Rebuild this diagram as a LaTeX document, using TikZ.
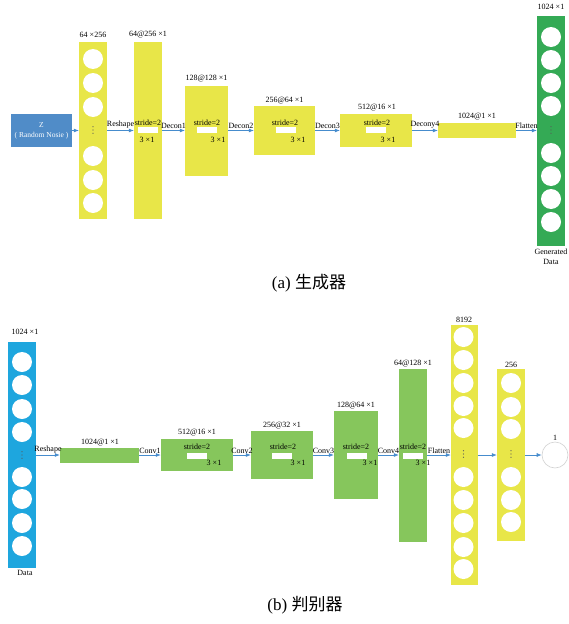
\documentclass[tikz,border=0pt]{standalone}
\usepackage{fontspec}
\setmainfont{Liberation Serif}
\newfontfamily\cjk{Noto Sans CJK SC}
\usetikzlibrary{arrows.meta}
\definecolor{ylw}{RGB}{232,230,72}
\definecolor{dgreen}{RGB}{52,170,85}
\definecolor{lgreen}{RGB}{134,198,92}
\definecolor{dblue}{RGB}{30,166,222}
\definecolor{zblue}{RGB}{80,140,200}
\definecolor{arrblue}{RGB}{70,140,205}
\begin{document}
\begin{tikzpicture}[x=1pt,y=-1pt,
  lbl/.style={font=\fontsize{8}{9}\selectfont, inner sep=0pt},
  blk/.style={inner sep=0pt, draw=none},
  neuron/.style={circle, fill=white, draw=none, inner sep=0pt, minimum size=20pt},
  arr/.style={draw=arrblue, line width=0.7pt, -{Latex[length=5pt,width=4pt]}},
  hole/.style={fill=white, draw=none, inner sep=0pt, minimum width=20pt, minimum height=6pt},
  alabel/.style={lbl, above=1.5pt, midway},
  vdotpt/.style={fill=black!65},
  captext/.style={font=\fontsize{17}{20}\selectfont, inner sep=0pt}
]
\useasboundingbox (0,0) rectangle (569,624);

% ---------------- (a) generator ----------------
\node[blk, fill=zblue, minimum width=61pt, minimum height=33pt, text=white, font=\fontsize{7.5}{9}\selectfont, align=center] (z) at (41.5,130.5) {Z\\[1pt]( Random Nosie )};
\node[blk, fill=ylw, minimum width=28pt, minimum height=177pt] (g0) at (93,130.5) {};
\node[blk, fill=ylw, minimum width=28pt, minimum height=177pt] (g1) at (148,130.5) {};
\node[blk, fill=ylw, minimum width=43pt, minimum height=90pt] (g2) at (206.5,130.5) {};
\node[blk, fill=ylw, minimum width=61pt, minimum height=49pt] (g3) at (284.5,130.5) {};
\node[blk, fill=ylw, minimum width=72pt, minimum height=33pt] (g4) at (376,130.5) {};
\node[blk, fill=ylw, minimum width=78pt, minimum height=15pt] (g5) at (477,130.5) {};
\node[blk, fill=dgreen, minimum width=28pt, minimum height=230pt] (g6) at (551,130.5) {};

\foreach \y [count=\i] in {59,83,107,156,180,203} \node[neuron] (g0c\i) at (93,\y) {};
\foreach \y [count=\i] in {37,60,83,106,153,176,199,222} \node[neuron] (g6c\i) at (551,\y) {};

\node[lbl] (lg0) at (93,35) {64 ×256};
\node[lbl] (lg1) at (148,35) {64@256 ×1};
\node[lbl] (lg2) at (206.5,79) {128@128 ×1};
\node[lbl] (lg3) at (284.5,101) {256@64 ×1};
\node[lbl] (lg4) at (377,108) {512@16 ×1};
\node[lbl] (lg5) at (477,117) {1024@1 ×1};
\node[lbl] (lg6) at (551,7) {1024 ×1};
\node[lbl, align=center] (lg6b) at (551,257) {Generated\\[1pt]Data};

\node[lbl] (s1) at (148,123) {stride=2};
\node[hole] (h1) at (148,130) {};
\node[lbl] (k1) at (147,140) {3 ×1};
\node[lbl] (s2) at (207,123) {stride=2};
\node[hole] (h2) at (207,130) {};
\node[lbl] (k2) at (218,140) {3 ×1};
\node[lbl] (s3) at (285,123) {stride=2};
\node[hole] (h3) at (286,130) {};
\node[lbl] (k3) at (298,140) {3 ×1};
\node[lbl] (s4) at (377,123) {stride=2};
\node[hole] (h4) at (375.5,130) {};
\node[lbl] (k4) at (388,140) {3 ×1};

\draw[arr] (z.east) -- (g0.west);
\draw[arr] (g0.east) -- node[alabel] {Reshape} (g1.west);
\draw[arr] (g1.east) -- node[alabel] {Decon1} (g2.west);
\draw[arr] (g2.east) -- node[alabel] {Decon2} (g3.west);
\draw[arr] (g3.east) -- node[alabel] {Decon3} (g4.west);
\draw[arr] (g4.east) -- node[alabel] {Decony4} (g5.west);
\draw[arr] (g5.east) -- node[alabel] {Flatten} (g6.west);

\node[captext] (capa) at (309,283) {(a) {\cjk 生成器}};

% ---------------- (b) discriminator ----------------
\node[blk, fill=dblue, minimum width=28pt, minimum height=226pt] (d0) at (22,455) {};
\node[blk, fill=lgreen, minimum width=79pt, minimum height=15pt] (d1) at (99.5,455) {};
\node[blk, fill=lgreen, minimum width=72pt, minimum height=32pt] (d2) at (197,455) {};
\node[blk, fill=lgreen, minimum width=62pt, minimum height=48pt] (d3) at (282,455) {};
\node[blk, fill=lgreen, minimum width=44pt, minimum height=88pt] (d4) at (356,455) {};
\node[blk, fill=lgreen, minimum width=28pt, minimum height=173pt] (d5) at (413,455) {};
\node[blk, fill=ylw, minimum width=27pt, minimum height=260pt] (d6) at (464.5,455) {};
\node[blk, fill=ylw, minimum width=28pt, minimum height=172pt] (d7) at (511,455) {};
\node[circle, fill=white, draw=gray!35, line width=0.6pt, minimum size=26pt, inner sep=0pt] (out) at (555,455) {};

\foreach \y [count=\i] in {362,385,409,432,477,499,523,546} \node[neuron] (d0c\i) at (22,\y) {};
\foreach \y [count=\i] in {337,360,383,406,428,477,500,523,547,569} \node[neuron] (d6c\i) at (463.5,\y) {};
\foreach \y [count=\i] in {383,407,429,477,500,522} \node[neuron] (d7c\i) at (511,\y) {};

% vertical ellipsis dots in the neuron columns
\foreach \x/\y in {93/130, 551/130, 22/455, 463.5/454, 511/454}
  \foreach \d in {-3.2,0,3.2} \fill[vdotpt] (\x,\y+\d) circle (0.65pt);

\node[lbl] (ld0) at (25,332) {1024 ×1};
\node[lbl] (ld0b) at (25,573) {Data};
\node[lbl] (ld1) at (100,443) {1024@1 ×1};
\node[lbl] (ld2) at (197,433) {512@16 ×1};
\node[lbl] (ld3) at (282,426) {256@32 ×1};
\node[lbl] (ld4) at (356,406) {128@64 ×1};
\node[lbl] (ld5) at (413,364) {64@128 ×1};
\node[lbl] (ld6) at (464,320) {8192};
\node[lbl] (ld7) at (511,365) {256};
\node[lbl] (lout) at (555,438) {1};

\node[lbl] (t2) at (197,447) {stride=2};
\node[hole] (o2) at (196.5,455.5) {};
\node[lbl] (q2) at (214,463) {3 ×1};
\node[lbl] (t3) at (283,447) {stride=2};
\node[hole] (o3) at (282,455.5) {};
\node[lbl] (q3) at (298,463) {3 ×1};
\node[lbl] (t4) at (356,447) {stride=2};
\node[hole] (o4) at (356.5,455.5) {};
\node[lbl] (q4) at (370,463) {3 ×1};
\node[lbl] (t5) at (413,447) {stride=2};
\node[hole] (o5) at (412.5,455.5) {};
\node[lbl] (q5) at (423,463) {3 ×1};

\draw[arr] (d0.east) -- node[alabel] {Reshape} (d1.west);
\draw[arr] (d1.east) -- node[alabel] {Conv1} (d2.west);
\draw[arr] (d2.east) -- node[alabel] {Conv2} (d3.west);
\draw[arr] (d3.east) -- node[alabel] {Conv3} (d4.west);
\draw[arr] (d4.east) -- node[alabel] {Conv4} (d5.west);
\draw[arr] (d5.east) -- node[alabel] {Flatten} (d6.west);
\draw[arr] (d6.east) -- (d7.west);
\draw[arr] (d7.east) -- (out.west);

\node[captext] (capb) at (305,605) {(b) {\cjk 判别器}};
\end{tikzpicture}
\end{document}
